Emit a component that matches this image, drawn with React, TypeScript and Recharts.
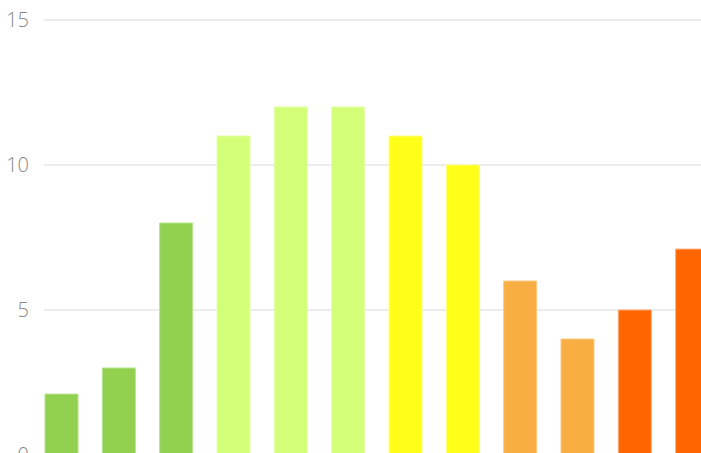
import React from "react";
import { BarChart, Bar, XAxis, YAxis, CartesianGrid, Cell } from "recharts";

const categories = ["1", "2", "3", "4", "5", "6", "7", "8", "9", "10", "11", "12"];
const values = [2.1, 3, 8, 11, 12, 12, 11, 10, 6, 4, 5, 7.1];
const barColors = [
  "#92d050", "#92d050", "#92d050",
  "#d4ff78", "#d4ff78", "#d4ff78",
  "#ffff19", "#ffff19",
  "#f8ae43", "#f8ae43",
  "#ff6600", "#ff6600",
];
const strokeColors = [
  "#b5e38a", "#b5e38a", "#b5e38a",
  "#e4ffa8", "#e4ffa8", "#e4ffa8",
  "#ffff80", "#ffff80",
  "#fbcb85", "#fbcb85",
  "#ffa870", "#ffa870",
];
const yTicks = [0, 5, 10, 15];

const data = categories.map((c, i) => ({ name: c, value: values[i] }));

export default function App() {
  return (
    <div style={{ position: "fixed", top: 0, left: 0, width: 701, height: 453, overflow: "hidden", background: "#fff" }}>
      <BarChart
        width={760}
        height={480}
        data={data}
        margin={{ top: 20, right: 28, bottom: 25, left: 0 }}
        barSize={33}
      >
        <CartesianGrid horizontal={true} vertical={false} stroke="#d9d9d9" />
        <XAxis dataKey="name" hide padding={{ left: -11, right: 11 }} />
        <YAxis
          width={44}
          domain={[0, 15]}
          ticks={yTicks}
          axisLine={false}
          tickLine={false}
          tickSize={0}
          tickMargin={15}
          tick={{ fill: "#888888", fontSize: 20, fontFamily: "Open Sans", fontWeight: 300 }}
        />
        <Bar dataKey="value" isAnimationActive={false}>
          {data.map((d, i) => (
            <Cell key={d.name} fill={barColors[i]} stroke={strokeColors[i]} strokeWidth={1} />
          ))}
        </Bar>
      </BarChart>
    </div>
  );
}
